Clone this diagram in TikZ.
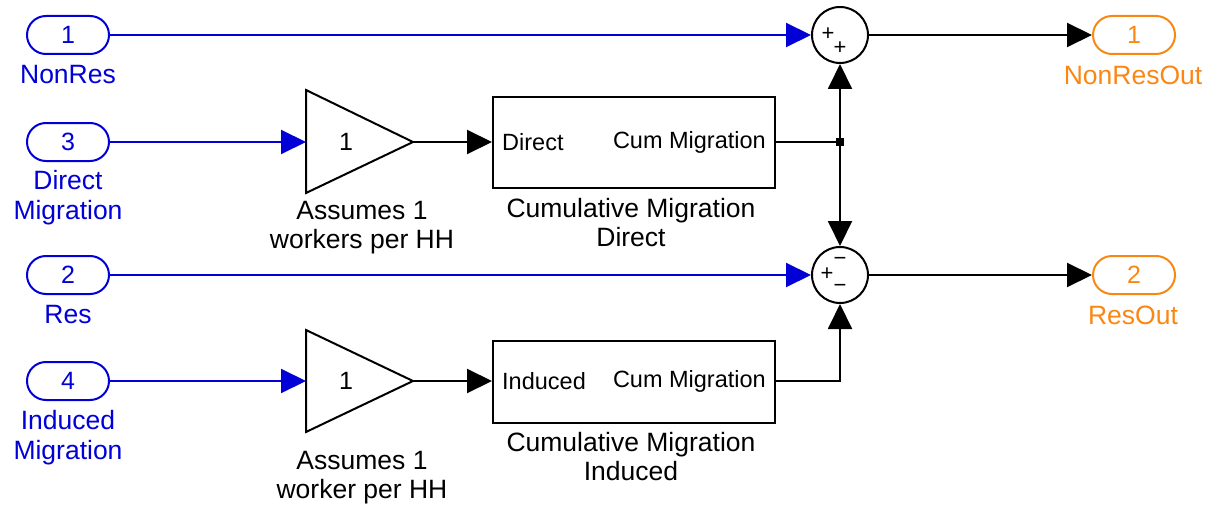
\documentclass[tikz,border=0pt]{standalone}
\usepackage{fontspec}
\setmainfont{Liberation Sans}
\usetikzlibrary{arrows.meta,positioning}
\definecolor{simblue}{RGB}{0,0,215}
\definecolor{simorange}{RGB}{250,135,20}
\tikzset{
  x=1pt,y=-1pt,
  inport/.style={draw=simblue,text=simblue,line width=2pt,rounded corners=19pt,minimum width=82pt,minimum height=38pt,inner sep=0pt,font=\fontsize{25}{28}\selectfont},
  outport/.style={inport,draw=simorange,text=simorange},
  inlabel/.style={text=simblue,align=center,font=\fontsize{26.5}{30}\selectfont,inner sep=0pt},
  outlabel/.style={inlabel,text=simorange},
  blocklabel/.style={align=center,font=\fontsize{26.5}{29}\selectfont,inner sep=0pt},
  innertext/.style={font=\fontsize{23.5}{26}\selectfont,inner sep=0pt},
  subsys/.style={draw,line width=2pt,minimum width=282pt,inner sep=0pt},
  sumblk/.style={draw,circle,line width=2pt,minimum size=56pt,inner sep=0pt},
  sign/.style={font=\fontsize{22}{22}\selectfont,inner sep=0pt},
  sig/.style={line width=2pt,-{Triangle[length=25pt,width=24pt]}},
  bsig/.style={sig,simblue},
  wire/.style={line width=2pt},
}
\begin{document}
\begin{tikzpicture}
\useasboundingbox (0,0) rectangle (1206,508);
% input ports
\node[inport] (in1) at (68,35) {1};
\node[inlabel] (in1l) at (68,75) {NonRes};
\node[inport] (in3) at (68,142) {3};
\node[inlabel] (in3l) at (68,198) {Direct\\Migration};
\node[inport] (in2) at (68,275) {2};
\node[inlabel] (in2l) at (68,315) {Res};
\node[inport] (in4) at (68,381) {4};
\node[inlabel] (in4l) at (68,438) {Induced\\Migration};
% output ports
\node[outport] (out1) at (1134,35) {1};
\node[outlabel] (out1l) at (1133,75) {NonResOut};
\node[outport] (out2) at (1134,275) {2};
\node[outlabel] (out2l) at (1133,315) {ResOut};
% gains
\draw[line width=2pt] (306,90) -- (413,142) -- (306,193) -- cycle;
\coordinate (g1in) at (306,142);
\coordinate (g1out) at (413,142);
\node[font=\fontsize{25}{28}\selectfont] (g1) at (346,142) {1};
\node[blocklabel] (g1l) at (362,228) {Assumes 1\\workers per HH};
\draw[line width=2pt] (306,330) -- (413,381) -- (306,432) -- cycle;
\coordinate (g2in) at (306,381);
\coordinate (g2out) at (413,381);
\node[font=\fontsize{25}{28}\selectfont] (g2) at (346,381) {1};
\node[blocklabel] (g2l) at (362,478) {Assumes 1\\worker per HH};
% subsystems
\node[subsys,minimum height=91pt] (b1) at (634,142.5) {};
\node[innertext,anchor=west] (b1in) at (502,142) {Direct};
\node[innertext,anchor=east] (b1out) at (766,142) {Cum Migration};
\node[blocklabel] (b1l) at (631,223) {Cumulative Migration\\Direct};
\node[subsys,minimum height=82pt] (b2) at (634,381.5) {};
\node[innertext,anchor=west] (b2in) at (502,381) {Induced};
\node[innertext,anchor=east] (b2out) at (766,381) {Cum Migration};
\node[blocklabel] (b2l) at (631,457) {Cumulative Migration\\Induced};
% sums
\node[sumblk] (s1) at (840,35) {};
\node[sign] at (828,34) {+};
\node[sign] at (840,48) {+};
\node[sumblk] (s2) at (840,275) {};
\node[sign] at (827,274) {+};
\node[sign] at (840,261) {−};
\node[sign] at (840,288) {−};
% branch point
\coordinate (bp) at (840,142);
\fill (bp) ++(-4,-4) rectangle ++(8,8);
% connections
\draw[bsig] (in1.east) -- (s1.west);
\draw[bsig] (in3.east) -- (g1in);
\draw[bsig] (in2.east) -- (s2.west);
\draw[bsig] (in4.east) -- (g2in);
\draw[sig] (g1out) -- (b1.west |- g1out);
\draw[sig] (g2out) -- (b2.west |- g2out);
\draw[wire] (b1.east |- bp) -- (bp);
\draw[sig] (bp) -- (s1.south);
\draw[sig] (bp) -- (s2.north);
\draw[sig] (b2.east |- g2out) -| (s2.south);
\draw[sig] (s1.east) -- (out1.west);
\draw[sig] (s2.east) -- (out2.west);
\end{tikzpicture}
\end{document}
